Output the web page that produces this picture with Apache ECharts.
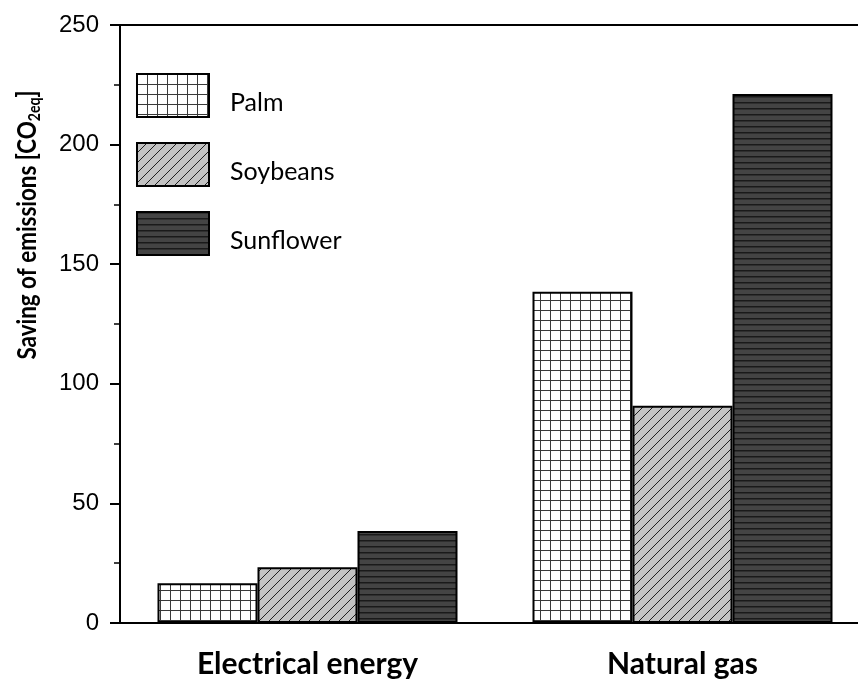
<!DOCTYPE html>
<html>
<head>
<meta charset="utf-8">
<script src="https://cdn.jsdelivr.net/npm/echarts@6/dist/echarts.min.js"></script>
<style>
  html, body { margin: 0; padding: 0; background: #fff; }
  #chart { width: 858px; height: 683px; }
</style>
</head>
<body>
<div id="chart"></div>
<script>
var categories = ['Electrical energy', 'Natural gas'];
var seriesNames = ['Palm', 'Soybeans', 'Sunflower'];
var palm = [16.6, 138.5];
var soybeans = [23.3, 90.8];
var sunflower = [38.5, 221.2];

// small canvas tiles used as hatch fills
function makeTile(w, h, draw) {
  var c = document.createElement('canvas');
  c.width = w;
  c.height = h;
  draw(c.getContext('2d'));
  return c;
}

// Palm: white with a fine grid
var gridTile = makeTile(10, 10, function (ctx) {
  ctx.fillStyle = '#fff';
  ctx.fillRect(0, 0, 10, 10);
  ctx.fillStyle = '#3a3a3a';
  ctx.fillRect(0, 0, 10, 1);
  ctx.fillRect(0, 0, 1, 10);
});

// Soybeans: light grey with "/" hatching
var diagTile = makeTile(10, 10, function (ctx) {
  ctx.fillStyle = '#c3c3c3';
  ctx.fillRect(0, 0, 10, 10);
  ctx.strokeStyle = '#1e1e1e';
  ctx.lineWidth = 1;
  ctx.beginPath();
  ctx.moveTo(-1, 11); ctx.lineTo(11, -1);
  ctx.moveTo(-1, 1); ctx.lineTo(1, -1);
  ctx.moveTo(9, 11); ctx.lineTo(11, 9);
  ctx.stroke();
});

// Sunflower: dark grey with horizontal lines
var lineTile = makeTile(6, 6, function (ctx) {
  ctx.fillStyle = '#444';
  ctx.fillRect(0, 0, 6, 6);
  ctx.fillStyle = '#1a1a1a';
  ctx.fillRect(0, 0, 6, 1.5);
});

var fills = [gridTile, diagTile, lineTile];
var values = [palm, soybeans, sunflower];

var chart = echarts.init(document.getElementById('chart'));

var series = [];
for (var i = 0; i < seriesNames.length; i++) {
  series.push({
    name: seriesNames[i],
    type: 'bar',
    barWidth: 100,
    barGap: '0%',
    data: values[i],
    itemStyle: {
      color: { image: fills[i], repeat: 'repeat' },
      borderColor: '#000',
      borderWidth: 2
    },
    emphasis: { disabled: true }
  });
}

var option = {
  animation: false,
  textStyle: { fontFamily: 'Lato' },
  grid: { left: 120, top: 25, bottom: 60, right: -12, outerBoundsMode: 'none' },
  legend: {
    orient: 'vertical',
    left: 136,
    top: 73,
    padding: 0,
    icon: 'rect',
    itemWidth: 72,
    itemHeight: 43,
    itemGap: 24,
    data: seriesNames,
    formatter: '{t|{name}}',
    textStyle: {
      fontSize: 25,
      color: '#000',
      fontFamily: 'Lato',
      padding: [0, 0, 0, 16],
      rich: {
        t: { fontSize: 25, color: '#000', fontFamily: 'Lato', padding: [14, 0, 0, 0] }
      }
    }
  },
  xAxis: [{
    type: 'category',
    data: categories,
    boundaryGap: true,
    axisLine: { lineStyle: { color: '#000', width: 2 } },
    axisTick: { alignWithLabel: true, length: 10, lineStyle: { color: '#000', width: 2 } },
    axisLabel: { color: '#000', fontSize: 30, fontWeight: 'bold', fontFamily: 'Lato', margin: 26 }
  }, {
    type: 'category',
    data: categories,
    position: 'top',
    axisLine: { lineStyle: { color: '#000', width: 2 } },
    axisTick: { show: false },
    axisLabel: { show: false }
  }],
  yAxis: {
    type: 'value',
    min: 0,
    max: 250,
    interval: 50,
    splitLine: { show: false },
    axisLine: { show: true, lineStyle: { color: '#000', width: 2 } },
    axisTick: { show: true, length: 10, lineStyle: { color: '#000', width: 2 } },
    minorTick: { show: true, splitNumber: 2, length: 6, lineStyle: { color: '#000', width: 1.5 } },
    axisLabel: { color: '#000', fontSize: 24, fontFamily: 'Liberation Sans', margin: 21 }
  },
  graphic: [{
    type: 'text',
    x: 27,
    y: 225,
    rotation: Math.PI / 2,
    scaleX: 0.83,
    style: {
      text: '{a|Saving of emissions [CO}{b|2eq}{a|]}',
      align: 'center',
      verticalAlign: 'middle',
      rich: {
        a: { fontSize: 27, fontWeight: 'bold', fontFamily: 'Lato', fill: '#000', lineHeight: 32 },
        b: { fontSize: 17, fontWeight: 'bold', fontFamily: 'Lato', fill: '#000', lineHeight: 20, verticalAlign: 'bottom' }
      }
    }
  }],
  series: series
};

chart.setOption(option);
</script>
</body>
</html>
